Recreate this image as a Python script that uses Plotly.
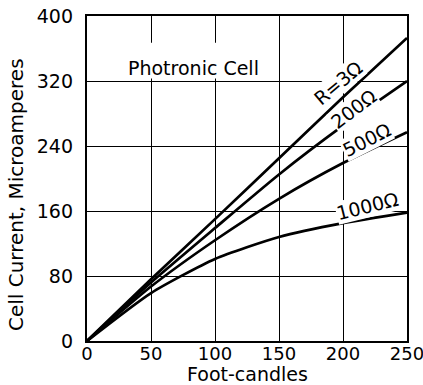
import plotly.graph_objects as go

foot_candles = [0, 50, 100, 150, 200, 250]
r3_ohm = [0, 76, 150, 225, 300, 373]
r200_ohm = [0, 72, 139, 205, 265, 320]
r500_ohm = [0, 67, 124, 175, 219, 257]
r1000_ohm = [0, 59, 101, 128, 145, 158]

x_ticks = [0, 50, 100, 150, 200, 250]
y_ticks = [0, 80, 160, 240, 320, 400]

FONT = "DejaVu Sans"

fig = go.Figure()
for ys in [r3_ohm, r200_ohm, r500_ohm, r1000_ohm]:
    fig.add_trace(go.Scatter(x=foot_candles, y=ys, mode="lines",
                             line=dict(color="black", width=2.7, shape="spline", smoothing=0.6),
                             showlegend=False, hoverinfo="skip"))

axis_common = dict(showgrid=True, gridcolor="black", gridwidth=1.4,
                   showline=True, linecolor="black", linewidth=2.4, mirror=True,
                   zeroline=False, ticks="", ticklabeloverflow="allow", automargin=False)

fig.update_xaxes(range=[0, 250], tickvals=x_ticks, ticktext=[str(v) for v in x_ticks],
                 ticklabelstandoff=-5, tickfont=dict(family=FONT, size=18, color="black"),
                 **axis_common)
fig.update_yaxes(range=[0, 400], tickvals=y_ticks, ticktext=[str(v) for v in y_ticks],
                 ticklabelstandoff=8, tickfont=dict(family=FONT, size=19, color="black"),
                 **axis_common)

# white panel behind the title text (interrupts the grid as in the original)
fig.add_shape(type="rect", x0=24, x1=141, y0=323, y1=367, layer="between",
              fillcolor="white", line=dict(width=0))
fig.add_annotation(x=83, y=336, text="Photronic Cell", showarrow=False,
                   font=dict(family=FONT, size=19, color="black"))

labels = [
    ("R=3\u03a9", 196, 318, -40),
    ("200\u03a9", 208, 286, -37),
    ("500\u03a9", 218, 248, -27),
    ("1000\u03a9", 219, 166, -14),
]
for txt, xv, yv, ang in labels:
    fig.add_annotation(x=xv, y=yv, text=txt, showarrow=False, textangle=ang,
                       font=dict(family=FONT, size=19, color="black"),
                       bgcolor="white", borderpad=0)

fig.add_annotation(xref="paper", yref="paper", x=-0.222, y=0.452,
                   text="Cell Current, Microamperes", textangle=-90, showarrow=False,
                   font=dict(family=FONT, size=20, color="black"), xanchor="center", yanchor="middle")
fig.add_annotation(xref="paper", yref="paper", x=0.503, y=-0.1015,
                   text="Foot-candles", showarrow=False,
                   font=dict(family=FONT, size=19, color="black"), xanchor="center", yanchor="middle")

fig.update_layout(width=423, height=385, margin=dict(l=87, r=16, t=16, b=44),
                  plot_bgcolor="white", paper_bgcolor="white")

fig.write_html("out.html", config={"displayModeBar": False},
               post_script="document.body.style.margin='0';")
